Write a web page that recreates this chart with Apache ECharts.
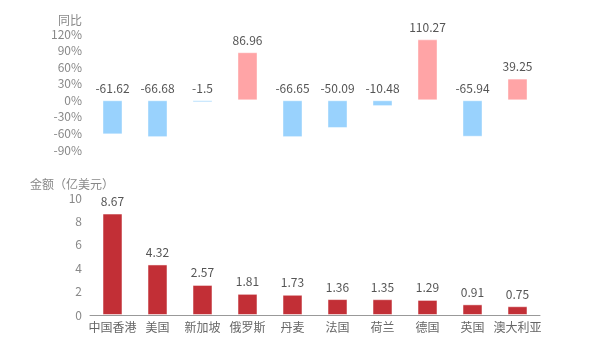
<!DOCTYPE html>
<html><head><meta charset="utf-8">
<script src="https://cdn.jsdelivr.net/npm/echarts@6/dist/echarts.min.js"></script>
<style>html,body{margin:0;padding:0;background:#fff}#c{width:600px;height:350px}</style>
</head><body><div id="c"></div>
<script>
const categories = ['中国香港','美国','新加坡','俄罗斯','丹麦','法国','荷兰','德国','英国','澳大利亚'];
const yoyValues = [-61.62,-66.68,-1.5,86.96,-66.65,-50.09,-10.48,110.27,-65.94,39.25];
const amountValues = [8.67,4.32,2.57,1.81,1.73,1.36,1.35,1.29,0.91,0.75];
const font = '"Noto Sans CJK SC", "Microsoft YaHei", sans-serif';
const chart = echarts.init(document.getElementById('c'));
chart.setOption({
  animation:false,
  textStyle:{fontFamily:font},
  grid:[
    {left:90,right:60,top:34,height:116},
    {left:90,right:60,top:198,height:117}
  ],
  xAxis:[
    {gridIndex:0,type:'category',data:categories,show:false},
    {gridIndex:1,type:'category',data:categories,
     axisLine:{lineStyle:{color:'#999'}},
     axisTick:{alignWithLabel:true,lineStyle:{color:'#999'}},
     axisLabel:{color:'#666',fontSize:12,interval:0,margin:6,fontFamily:font}}
  ],
  yAxis:[
    {gridIndex:0,type:'value',min:-90,max:120,interval:30,
     name:'同比',nameGap:8,nameTextStyle:{color:'#888',fontSize:12,align:'right',padding:[0,8,0,0]},
     axisLine:{show:false},axisTick:{show:false},splitLine:{show:false},
     axisLabel:{formatter:'{value}%',color:'#888',fontSize:12,margin:8}},
    {gridIndex:1,type:'value',min:0,max:10,interval:2,
     name:'金额（亿美元）',nameGap:8,nameTextStyle:{color:'#888',fontSize:12,align:'right',padding:[0,-24,0,0]},
     axisLine:{show:false},axisTick:{show:false},splitLine:{show:false},
     axisLabel:{color:'#888',fontSize:12,margin:8}}
  ],
  series:[
    {type:'bar',xAxisIndex:0,yAxisIndex:0,barWidth:20,barMinHeight:2,
     data:yoyValues.map(v=>({value:v,itemStyle:{color:v>=0?'#ffa4a6':'#99d2fd'}})),
     itemStyle:{borderColor:'rgba(255,255,255,0.4)',borderWidth:1},
     label:{show:true,position:'top',color:'#555',fontSize:12,distance:6}},
    {type:'bar',xAxisIndex:1,yAxisIndex:1,barWidth:20,data:amountValues,
     itemStyle:{color:'#c22f36',borderColor:'rgba(255,255,255,0.5)',borderWidth:1},
     label:{show:true,position:'top',color:'#555',fontSize:12,distance:6}}
  ]
});
</script></body></html>
